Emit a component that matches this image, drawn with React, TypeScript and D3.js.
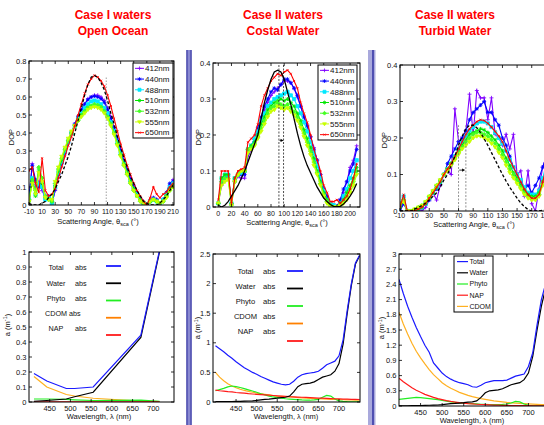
import React from 'react';
import * as d3 from 'd3';

// ---------------- categories / labels ----------------
const WAVE_NAMES = ['412nm', '440nm', '488nm', '510nm', '532nm', '555nm', '650nm'];
const WAVE_COLORS = ['#8000ff', '#0000ff', '#00e8ff', '#00e600', '#44ff22', '#c8ff00', '#ff0000'];
const WAVE_MARKERS = ['plus', 'star', 'square', 'star', 'diamond', 'tri', 'x'];

const ABS_NAMES_A = ['Total', 'Water', 'Phyto', 'CDOM', 'NAP'];
const ABS_NAMES_B = ['Total', 'Water', 'Phyto', 'NAP', 'CDOM'];
const ABS_COLORS: Record<string, string> = { Total: '#1a1aff', Water: '#000000', Phyto: '#22ee22', CDOM: '#ffb020', NAP: '#ff1a1a' };
const ABS_LEGEND_COLORS: Record<string, string> = { Total: '#1a1aff', Water: '#000000', Phyto: '#22ee22', CDOM: '#ff8000', NAP: '#ff1a1a' };

// ---------------- tick labels ----------------
const X_TICKS_OCEAN = [-10, 10, 30, 50, 70, 90, 110, 130, 150, 170, 190, 210];
const X_TICKS_COASTAL = [0, 20, 40, 60, 80, 100, 120, 140, 160, 180, 200];
const X_TICKS_TURBID = [-10, 10, 30, 50, 70, 90, 110, 130, 150, 170, 190, 210];
const Y_TICKS_OCEAN = [0, 0.1, 0.2, 0.3, 0.4, 0.5, 0.6, 0.7, 0.8];
const Y_TICKS_04 = [0, 0.1, 0.2, 0.3, 0.4];
const WL_TICKS = [450, 500, 550, 600, 650, 700];
const A_TICKS_1 = [0, 0.1, 0.2, 0.3, 0.4, 0.5, 0.6, 0.7, 0.8, 0.9, 1];
const A_TICKS_2 = [0, 0.5, 1, 1.5, 2, 2.5];
const A_TICKS_3 = [0, 0.3, 0.6, 0.9, 1.2, 1.5, 1.8, 2.1, 2.4, 2.7, 3];

// ---------------- DOP: Case I open ocean ----------------
const ANGLES_OCEAN = [-10, -5, 0, 5, 10, 15, 20, 25, 30, 35, 40, 45, 50, 55, 60, 65, 70, 75, 80, 85, 90, 95, 100, 105, 110, 115, 120, 125, 130, 135, 140, 145, 150, 155, 160, 165, 170, 175, 180, 185, 190, 195, 200, 205, 210];
const OCEAN_THEORY = [0.01, 0.0, 0.0, 0.0, 0.01, 0.02, 0.04, 0.06, 0.09, 0.13, 0.17, 0.22, 0.27, 0.33, 0.40, 0.47, 0.54, 0.61, 0.67, 0.71, 0.72, 0.71, 0.68, 0.64, 0.58, 0.51, 0.45, 0.38, 0.32, 0.26, 0.21, 0.16, 0.12, 0.08, 0.05, 0.02, 0.01, 0.0, 0.0, 0.0, 0.01, 0.03, 0.05, 0.08, 0.11];
const OCEAN_412 = [0.02, 0.23, 0.10, 0.13, 0.08, 0.04, 0.04, 0.01, 0.08, 0.17, 0.23, 0.29, 0.35, 0.40, 0.45, 0.49, 0.53, 0.56, 0.59, 0.60, 0.61, 0.61, 0.60, 0.58, 0.54, 0.49, 0.43, 0.37, 0.31, 0.25, 0.20, 0.15, 0.11, 0.07, 0.04, 0.02, 0.0, 0.03, 0.04, 0.03, 0.01, 0.03, 0.06, 0.11, 0.14];
const OCEAN_440 = [0.05, 0.22, 0.14, 0.10, 0.12, 0.05, 0.05, 0.0, 0.09, 0.17, 0.23, 0.29, 0.35, 0.40, 0.45, 0.49, 0.53, 0.56, 0.585, 0.60, 0.605, 0.60, 0.59, 0.57, 0.53, 0.48, 0.42, 0.36, 0.30, 0.24, 0.19, 0.14, 0.10, 0.06, 0.03, 0.01, 0.0, 0.02, 0.04, 0.03, 0.01, 0.03, 0.07, 0.12, 0.13];
const OCEAN_488 = [0.03, 0.15, 0.06, 0.12, 0.10, 0.03, 0.04, 0.01, 0.10, 0.18, 0.24, 0.30, 0.35, 0.40, 0.44, 0.48, 0.51, 0.54, 0.56, 0.575, 0.58, 0.575, 0.56, 0.54, 0.51, 0.46, 0.41, 0.35, 0.29, 0.23, 0.18, 0.13, 0.09, 0.06, 0.03, 0.01, 0.0, 0.02, 0.03, 0.02, 0.01, 0.03, 0.06, 0.10, 0.12];
const OCEAN_510 = [0.02, 0.13, 0.05, 0.20, 0.12, 0.04, 0.03, 0.02, 0.11, 0.19, 0.25, 0.31, 0.36, 0.40, 0.44, 0.47, 0.50, 0.52, 0.54, 0.55, 0.555, 0.55, 0.54, 0.52, 0.49, 0.45, 0.40, 0.34, 0.28, 0.23, 0.18, 0.13, 0.09, 0.05, 0.03, 0.01, 0.0, 0.02, 0.03, 0.02, 0.01, 0.02, 0.05, 0.09, 0.11];
const OCEAN_532 = [0.03, 0.14, 0.08, 0.21, 0.15, 0.05, 0.03, 0.02, 0.12, 0.20, 0.26, 0.31, 0.36, 0.40, 0.44, 0.47, 0.50, 0.52, 0.54, 0.55, 0.56, 0.555, 0.545, 0.52, 0.49, 0.45, 0.40, 0.34, 0.28, 0.22, 0.17, 0.12, 0.08, 0.05, 0.02, 0.01, 0.0, 0.02, 0.03, 0.02, 0.01, 0.02, 0.05, 0.08, 0.10];
const OCEAN_555 = [0.02, 0.12, 0.06, 0.18, 0.13, 0.04, 0.03, 0.03, 0.13, 0.21, 0.27, 0.32, 0.37, 0.41, 0.44, 0.47, 0.49, 0.51, 0.53, 0.54, 0.545, 0.54, 0.53, 0.51, 0.48, 0.44, 0.39, 0.33, 0.27, 0.22, 0.17, 0.12, 0.08, 0.05, 0.02, 0.01, 0.0, 0.02, 0.03, 0.02, 0.01, 0.02, 0.04, 0.08, 0.10];
const OCEAN_650 = [0.19, 0.21, 0.12, 0.07, 0.26, 0.08, 0.05, 0.06, 0.09, 0.15, 0.21, 0.27, 0.33, 0.38, 0.44, 0.50, 0.56, 0.62, 0.67, 0.70, 0.72, 0.71, 0.69, 0.66, 0.61, 0.55, 0.48, 0.41, 0.34, 0.28, 0.22, 0.17, 0.12, 0.08, 0.05, 0.02, 0.0, 0.04, 0.10, 0.06, 0.04, 0.06, 0.07, 0.10, 0.12];

// ---------------- DOP: Case II coastal ----------------
const ANGLES_COASTAL = [0, 5, 10, 15, 20, 25, 30, 35, 40, 45, 50, 55, 60, 65, 70, 75, 80, 85, 90, 95, 100, 105, 110, 115, 120, 125, 130, 135, 140, 145, 150, 155, 160, 165, 170, 175, 180, 185, 190, 195, 200, 205, 210];
const COASTAL_THEORY = [0.005, 0.0, 0.005, 0.015, 0.03, 0.045, 0.06, 0.08, 0.10, 0.125, 0.15, 0.175, 0.2, 0.245, 0.29, 0.325, 0.355, 0.375, 0.38, 0.375, 0.355, 0.32, 0.285, 0.245, 0.205, 0.17, 0.14, 0.115, 0.095, 0.075, 0.055, 0.04, 0.025, 0.015, 0.007, 0.002, 0.0, 0.002, 0.008, 0.018, 0.03, 0.045, 0.065];
const COASTAL_412 = [0.01, 0.06, 0.08, 0.085, 0.01, 0.07, 0.085, 0.08, 0.08, 0.14, 0.16, 0.18, 0.21, 0.24, 0.27, 0.29, 0.31, 0.32, 0.33, 0.34, 0.35, 0.35, 0.345, 0.33, 0.305, 0.28, 0.25, 0.225, 0.195, 0.165, 0.13, 0.09, 0.05, 0.025, 0.01, 0.0, 0.0, 0.02, 0.04, 0.07, 0.11, 0.13, 0.17];
const COASTAL_440 = [0.01, 0.07, 0.085, 0.09, 0.01, 0.075, 0.09, 0.09, 0.09, 0.15, 0.17, 0.19, 0.22, 0.25, 0.28, 0.30, 0.32, 0.33, 0.325, 0.34, 0.355, 0.355, 0.345, 0.33, 0.31, 0.28, 0.25, 0.225, 0.195, 0.16, 0.13, 0.09, 0.05, 0.03, 0.01, 0.005, 0.0, 0.02, 0.05, 0.07, 0.10, 0.12, 0.16];
const COASTAL_488 = [0.01, 0.08, 0.09, 0.09, 0.01, 0.08, 0.09, 0.095, 0.10, 0.16, 0.17, 0.19, 0.21, 0.24, 0.26, 0.28, 0.29, 0.30, 0.305, 0.31, 0.315, 0.32, 0.31, 0.30, 0.28, 0.26, 0.235, 0.21, 0.18, 0.15, 0.115, 0.08, 0.045, 0.02, 0.01, 0.005, 0.0, 0.01, 0.03, 0.05, 0.08, 0.10, 0.13];
const COASTAL_510 = [0.01, 0.08, 0.09, 0.09, 0.01, 0.08, 0.09, 0.10, 0.10, 0.16, 0.17, 0.18, 0.20, 0.23, 0.25, 0.27, 0.28, 0.29, 0.295, 0.30, 0.295, 0.30, 0.29, 0.28, 0.26, 0.24, 0.215, 0.19, 0.165, 0.135, 0.10, 0.07, 0.04, 0.02, 0.005, 0.0, 0.0, 0.01, 0.02, 0.04, 0.06, 0.08, 0.11];
const COASTAL_532 = [0.01, 0.07, 0.08, 0.08, 0.005, 0.07, 0.09, 0.10, 0.10, 0.16, 0.165, 0.175, 0.195, 0.22, 0.24, 0.26, 0.275, 0.28, 0.29, 0.285, 0.28, 0.285, 0.275, 0.265, 0.25, 0.23, 0.205, 0.18, 0.155, 0.125, 0.095, 0.065, 0.035, 0.015, 0.005, 0.0, 0.0, 0.005, 0.015, 0.03, 0.05, 0.07, 0.10];
const COASTAL_555 = [0.01, 0.06, 0.07, 0.075, 0.005, 0.07, 0.09, 0.10, 0.10, 0.15, 0.16, 0.17, 0.19, 0.21, 0.23, 0.25, 0.265, 0.27, 0.28, 0.275, 0.27, 0.275, 0.265, 0.255, 0.24, 0.22, 0.195, 0.17, 0.145, 0.115, 0.09, 0.06, 0.03, 0.01, 0.0, 0.0, 0.0, 0.005, 0.01, 0.02, 0.04, 0.06, 0.09];
const COASTAL_650 = [0.02, 0.10, 0.10, 0.10, 0.01, 0.08, 0.10, 0.105, 0.11, 0.18, 0.19, 0.20, 0.23, 0.28, 0.31, 0.33, 0.35, 0.36, 0.37, 0.365, 0.375, 0.38, 0.37, 0.35, 0.33, 0.29, 0.26, 0.235, 0.20, 0.16, 0.13, 0.10, 0.06, 0.04, 0.015, 0.015, 0.02, 0.01, 0.02, 0.03, 0.05, 0.08, 0.12];

// ---------------- DOP: Case II turbid ----------------
const ANGLES_TURBID = [-10, -5, 0, 5, 10, 15, 20, 25, 30, 35, 40, 45, 50, 55, 60, 65, 70, 75, 80, 85, 90, 95, 100, 105, 110, 115, 120, 125, 130, 135, 140, 145, 150, 155, 160, 165, 170, 175, 180, 185, 190, 195, 200, 205, 210];
const TURBID_THEORY = [0.0, 0.0, 0.0, 0.0, 0.005, 0.01, 0.015, 0.022, 0.03, 0.04, 0.05, 0.065, 0.085, 0.10, 0.125, 0.15, 0.18, 0.205, 0.225, 0.235, 0.235, 0.228, 0.215, 0.198, 0.18, 0.16, 0.14, 0.12, 0.10, 0.082, 0.065, 0.05, 0.035, 0.022, 0.012, 0.004, 0.0, 0.0, 0.0, 0.002, 0.005, 0.01, 0.02, 0.03, 0.04];
const TURBID_412 = [0.0, 0.03, 0.0, 0.0, 0.0, 0.005, 0.0, 0.01, 0.03, 0.05, 0.03, 0.07, 0.10, 0.11, 0.10, 0.28, 0.19, 0.20, 0.22, 0.32, 0.21, 0.33, 0.31, 0.31, 0.25, 0.31, 0.21, 0.20, 0.18, 0.21, 0.17, 0.21, 0.10, 0.11, 0.04, 0.11, 0.02, 0.0, 0.06, 0.12, 0.15, 0.17, 0.19, 0.20, 0.21];
const TURBID_440 = [0.0, 0.02, 0.0, 0.0, 0.0, 0.005, 0.01, 0.02, 0.03, 0.05, 0.06, 0.08, 0.10, 0.13, 0.15, 0.17, 0.19, 0.20, 0.22, 0.25, 0.27, 0.28, 0.29, 0.30, 0.27, 0.27, 0.25, 0.235, 0.20, 0.18, 0.15, 0.12, 0.10, 0.08, 0.06, 0.07, 0.05, 0.07, 0.09, 0.12, 0.15, 0.17, 0.19, 0.20, 0.21];
const TURBID_488 = [0.02, 0.04, 0.0, 0.0, 0.0, 0.005, 0.01, 0.02, 0.035, 0.05, 0.065, 0.08, 0.10, 0.115, 0.13, 0.15, 0.17, 0.19, 0.205, 0.22, 0.23, 0.24, 0.245, 0.245, 0.24, 0.23, 0.215, 0.20, 0.185, 0.165, 0.14, 0.12, 0.10, 0.085, 0.065, 0.05, 0.045, 0.045, 0.055, 0.09, 0.13, 0.16, 0.18, 0.19, 0.20];
const TURBID_510 = [0.01, 0.03, 0.0, 0.0, 0.0, 0.005, 0.01, 0.02, 0.035, 0.05, 0.065, 0.08, 0.10, 0.115, 0.13, 0.145, 0.165, 0.18, 0.195, 0.21, 0.215, 0.22, 0.225, 0.222, 0.215, 0.205, 0.195, 0.18, 0.165, 0.145, 0.125, 0.105, 0.09, 0.07, 0.055, 0.045, 0.04, 0.04, 0.05, 0.08, 0.11, 0.14, 0.16, 0.17, 0.18];
const TURBID_532 = [0.02, 0.03, 0.0, 0.0, 0.005, 0.01, 0.015, 0.025, 0.04, 0.055, 0.07, 0.085, 0.10, 0.115, 0.13, 0.145, 0.16, 0.175, 0.19, 0.20, 0.21, 0.215, 0.215, 0.21, 0.205, 0.195, 0.185, 0.17, 0.155, 0.135, 0.115, 0.10, 0.085, 0.065, 0.05, 0.04, 0.035, 0.035, 0.045, 0.075, 0.10, 0.13, 0.15, 0.16, 0.17];
const TURBID_555 = [0.02, 0.025, 0.0, 0.0, 0.005, 0.01, 0.015, 0.025, 0.04, 0.055, 0.07, 0.085, 0.10, 0.11, 0.125, 0.14, 0.155, 0.17, 0.18, 0.19, 0.20, 0.205, 0.205, 0.20, 0.195, 0.185, 0.175, 0.16, 0.145, 0.125, 0.105, 0.09, 0.075, 0.06, 0.045, 0.035, 0.03, 0.03, 0.04, 0.07, 0.095, 0.12, 0.14, 0.15, 0.16];
const TURBID_650 = [0.01, 0.045, 0.0, 0.0, 0.0, 0.005, 0.01, 0.02, 0.035, 0.05, 0.065, 0.08, 0.10, 0.115, 0.13, 0.15, 0.17, 0.19, 0.21, 0.225, 0.235, 0.245, 0.25, 0.248, 0.24, 0.23, 0.218, 0.205, 0.19, 0.165, 0.14, 0.12, 0.10, 0.08, 0.06, 0.045, 0.035, 0.035, 0.045, 0.08, 0.12, 0.15, 0.17, 0.18, 0.19];

// ---------------- absorption: Case I (multispectral) ----------------
const WL_OCEAN = [412, 443, 490, 510, 555, 670, 715];
const OCEAN_TOTAL = [0.19, 0.14, 0.09, 0.09, 0.10, 0.445, 1.01];
const OCEAN_WATER = [0.005, 0.01, 0.02, 0.035, 0.065, 0.43, 1.0];
const OCEAN_PHYTO = [0.02, 0.02, 0.017, 0.014, 0.01, 0.012, 0.004];
const OCEAN_CDOM = [0.17, 0.10, 0.05, 0.04, 0.025, 0.006, 0.003];
const OCEAN_NAP = [0.001, 0.001, 0.001, 0.001, 0.001, 0.001, 0.001];

// ---------------- absorption: hyperspectral ----------------
const WL_HYPER = [400, 410, 420, 430, 440, 450, 460, 470, 480, 490, 500, 510, 520, 530, 540, 550, 560, 570, 580, 590, 600, 610, 620, 630, 640, 650, 660, 670, 680, 690, 700, 710, 720, 730, 740, 750];
const WATER_HYPER = [0.005, 0.005, 0.005, 0.006, 0.007, 0.009, 0.012, 0.015, 0.017, 0.02, 0.026, 0.036, 0.045, 0.05, 0.058, 0.065, 0.075, 0.08, 0.10, 0.17, 0.26, 0.30, 0.31, 0.32, 0.34, 0.38, 0.42, 0.44, 0.46, 0.52, 0.65, 0.98, 1.50, 1.97, 2.33, 2.47];
const COASTAL_TOTAL = [0.95, 0.90, 0.85, 0.79, 0.74, 0.68, 0.63, 0.58, 0.54, 0.50, 0.47, 0.43, 0.40, 0.37, 0.34, 0.32, 0.30, 0.29, 0.30, 0.35, 0.42, 0.46, 0.48, 0.49, 0.50, 0.52, 0.57, 0.63, 0.66, 0.69, 0.78, 1.05, 1.55, 2.0, 2.35, 2.48];
const COASTAL_PHYTO = [0.19, 0.21, 0.23, 0.255, 0.27, 0.26, 0.245, 0.225, 0.205, 0.185, 0.165, 0.14, 0.12, 0.10, 0.085, 0.075, 0.065, 0.055, 0.05, 0.045, 0.04, 0.035, 0.032, 0.03, 0.035, 0.045, 0.08, 0.11, 0.10, 0.05, 0.02, 0.01, 0.005, 0.003, 0.002, 0.001];
const COASTAL_CDOM = [0.50, 0.42, 0.36, 0.31, 0.27, 0.24, 0.215, 0.195, 0.18, 0.165, 0.15, 0.14, 0.13, 0.12, 0.11, 0.10, 0.095, 0.09, 0.085, 0.08, 0.075, 0.07, 0.066, 0.062, 0.058, 0.055, 0.052, 0.049, 0.046, 0.043, 0.04, 0.038, 0.036, 0.034, 0.032, 0.03];
const COASTAL_NAP = [0.20, 0.19, 0.185, 0.175, 0.17, 0.16, 0.155, 0.15, 0.14, 0.135, 0.13, 0.125, 0.12, 0.115, 0.11, 0.105, 0.10, 0.095, 0.09, 0.087, 0.083, 0.08, 0.077, 0.073, 0.07, 0.067, 0.064, 0.061, 0.058, 0.055, 0.052, 0.05, 0.048, 0.046, 0.044, 0.042];
const TURBID_TOTAL = [2.5, 2.22, 1.97, 1.75, 1.55, 1.37, 1.2, 1.06, 0.85, 0.75, 0.65, 0.58, 0.53, 0.49, 0.46, 0.44, 0.42, 0.38, 0.37, 0.41, 0.46, 0.48, 0.50, 0.50, 0.50, 0.51, 0.55, 0.59, 0.61, 0.63, 0.78, 1.05, 1.6, 2.1, 2.42, 2.55];
const TURBID_PHYTO = [0.13, 0.14, 0.15, 0.16, 0.17, 0.165, 0.155, 0.145, 0.135, 0.125, 0.11, 0.095, 0.08, 0.07, 0.06, 0.055, 0.05, 0.045, 0.04, 0.035, 0.032, 0.03, 0.03, 0.03, 0.032, 0.04, 0.06, 0.09, 0.08, 0.04, 0.015, 0.008, 0.004, 0.002, 0.001, 0.001];
const TURBID_CDOM = [1.85, 1.62, 1.42, 1.24, 1.08, 0.95, 0.83, 0.72, 0.62, 0.54, 0.46, 0.40, 0.35, 0.31, 0.27, 0.24, 0.21, 0.185, 0.165, 0.145, 0.13, 0.115, 0.10, 0.09, 0.08, 0.07, 0.063, 0.056, 0.05, 0.045, 0.04, 0.036, 0.032, 0.029, 0.026, 0.024];
const TURBID_NAP = [0.55, 0.48, 0.42, 0.36, 0.31, 0.27, 0.23, 0.20, 0.17, 0.145, 0.125, 0.105, 0.09, 0.078, 0.066, 0.057, 0.048, 0.041, 0.035, 0.03, 0.026, 0.022, 0.019, 0.016, 0.014, 0.012, 0.01, 0.009, 0.008, 0.007, 0.006, 0.005, 0.004, 0.004, 0.003, 0.003];

const FONT = 'Liberation Sans, Arial, Helvetica, sans-serif';

type Box = { x: number; y: number; w: number; h: number };

function markerPath(type: string, cx: number, cy: number, s: number): string {
  const plus = `M${cx - s},${cy}H${cx + s}M${cx},${cy - s}V${cy + s}`;
  const k = s * 0.72;
  const cross = `M${cx - k},${cy - k}L${cx + k},${cy + k}M${cx - k},${cy + k}L${cx + k},${cy - k}`;
  switch (type) {
    case 'plus': return plus;
    case 'x': return cross;
    case 'star': return plus + cross;
    case 'square': return `M${cx - s * 0.8},${cy - s * 0.8}h${1.6 * s}v${1.6 * s}h${-1.6 * s}Z`;
    case 'diamond': return `M${cx},${cy - s}L${cx + s},${cy}L${cx},${cy + s}L${cx - s},${cy}Z`;
    case 'tri': return `M${cx - s},${cy - s * 0.6}L${cx + s},${cy - s * 0.6}L${cx},${cy + s}Z`;
    default: return plus;
  }
}
const FILLED = new Set(['square', 'diamond', 'tri']);

function Frame({ box, x, y, xTicks, yTicks, yFmt, tickLabelY, fs, xfs }: any) {
  const b = box.y + box.h;
  return (
    <g>
      <rect x={box.x} y={box.y} width={box.w} height={box.h} fill="none" stroke="#000" strokeWidth={1} />
      {xTicks.map((t: number) => (
        <g key={'x' + t}>
          <line x1={x(t)} x2={x(t)} y1={b} y2={b - 3} stroke="#000" strokeWidth={0.8} />
          <line x1={x(t)} x2={x(t)} y1={box.y} y2={box.y + 3} stroke="#000" strokeWidth={0.8} />
          <text x={x(t)} y={tickLabelY} fontSize={xfs || fs} textAnchor="middle" fill="#111">{t}</text>
        </g>
      ))}
      {yTicks.map((t: number) => (
        <g key={'y' + t}>
          <line x1={box.x} x2={box.x + 3} y1={y(t)} y2={y(t)} stroke="#000" strokeWidth={0.8} />
          <line x1={box.x + box.w} x2={box.x + box.w - 3} y1={y(t)} y2={y(t)} stroke="#000" strokeWidth={0.8} />
          <text x={box.x - 2.5} y={y(t)} dy="0.35em" fontSize={fs} textAnchor="end" fill="#111">{yFmt(t)}</text>
        </g>
      ))}
    </g>
  );
}

function TopPanel(p: any) {
  const { id, box, xDomain, yDomain, xTicks, yTicks, angles, series, theory, theorySolid, vlines, arrow, legend, tickLabelY, xLabel, yLabel, xfs } = p;
  const x = d3.scaleLinear().domain(xDomain).range([box.x, box.x + box.w]);
  const y = d3.scaleLinear().domain(yDomain).range([box.y + box.h, box.y]);
  const mk = (vals: number[]) =>
    d3.line<number>().x((_, i) => x(angles[i])).y((v) => y(v))(vals.slice(0, angles.length)) || '';
  const fmt = (t: number) => String(+t.toFixed(2));
  return (
    <g>
      <defs>
        <clipPath id={id}><rect x={box.x} y={box.y} width={box.w} height={box.h} /></clipPath>
      </defs>
      <rect x={box.x} y={box.y} width={box.w} height={box.h} fill="#fff" />
      <g clipPath={`url(#${id})`}>
        {series.map((vals: number[], si: number) => (
          <g key={si}>
            <path d={mk(vals)} fill="none" stroke={WAVE_COLORS[si]} strokeWidth={1.1} />
            {vals.slice(0, angles.length).map((v, i) => (
              <path key={i} d={markerPath(WAVE_MARKERS[si], x(angles[i]), y(v), si === 6 ? 1.4 : 2)}
                stroke={WAVE_COLORS[si]} strokeWidth={0.85}
                fill={FILLED.has(WAVE_MARKERS[si]) ? WAVE_COLORS[si] : 'none'} />
            ))}
          </g>
        ))}
        {vlines.map((v: any, i: number) => (
          <line key={i} x1={x(v.x)} x2={x(v.x)} y1={y(v.y0)} y2={y(v.y1)} stroke={v.color} strokeWidth={0.8} strokeDasharray={v.dash} />
        ))}
        <path d={mk(theory)} fill="none" stroke="#000" strokeWidth={1.3} strokeDasharray={theorySolid ? undefined : '3,2'} />
        {arrow && (
          <g>
            <line x1={x(arrow.x0)} x2={x(arrow.x1) - 2} y1={y(arrow.y)} y2={y(arrow.y)} stroke="#000" strokeWidth={0.8} />
            <path d={`M${x(arrow.x1)},${y(arrow.y)}l-3,-1.6v3.2Z`} fill="#000" />
          </g>
        )}
      </g>
      <Frame box={box} x={x} y={y} xTicks={xTicks} yTicks={yTicks} yFmt={fmt} tickLabelY={tickLabelY} fs={7.5} xfs={xfs} />
      {legend && (
        <g>
          <rect x={legend.x} y={legend.y} width={legend.w} height={legend.h} fill="#fff" stroke="#000" strokeWidth={1} />
          {WAVE_NAMES.map((n, i) => {
            const ry = legend.y + legend.h * (i + 0.5) / 7;
            return (
              <g key={n}>
                <line x1={legend.x + 2} x2={legend.x + 11} y1={ry} y2={ry} stroke={WAVE_COLORS[i]} strokeWidth={1} />
                <path d={markerPath(WAVE_MARKERS[i], legend.x + 6.5, ry, i === 6 ? 1.4 : 1.9)} stroke={WAVE_COLORS[i]} strokeWidth={0.8}
                  fill={FILLED.has(WAVE_MARKERS[i]) ? WAVE_COLORS[i] : 'none'} />
                <text x={legend.x + 12} y={ry} dy="0.35em" fontSize={8} fill="#111">{n}</text>
              </g>
            );
          })}
        </g>
      )}
      <text x={xLabel.x} y={xLabel.y} fontSize={7.5} textAnchor="middle" fill="#111">
        Scattering Angle, θ<tspan dy={2} fontSize={5.5}>sca</tspan><tspan dy={-2}> (°)</tspan>
      </text>
      <text transform={`translate(${yLabel.x},${yLabel.y}) rotate(-90)`} fontSize={7.5} textAnchor="middle" fill="#111">DOP</text>
    </g>
  );
}

function BottomPanel(p: any) {
  const { id, box, xDomain, yDomain, yTicks, wl, series, names, legendStyle, tickLabelY, xLabel, yLabel } = p;
  const x = d3.scaleLinear().domain(xDomain).range([box.x, box.x + box.w]);
  const y = d3.scaleLinear().domain(yDomain).range([box.y + box.h, box.y]);
  const mk = (vals: number[]) =>
    d3.line<number>().x((_, i) => x(wl[i])).y((v) => y(v))(vals.slice(0, wl.length)) || '';
  const fmt = (t: number) => String(+t.toFixed(2));
  const drawOrder = ['CDOM', 'Phyto', 'NAP', 'Water', 'Total'];
  return (
    <g>
      <defs>
        <clipPath id={id}><rect x={box.x} y={box.y} width={box.w} height={box.h} /></clipPath>
      </defs>
      <rect x={box.x} y={box.y} width={box.w} height={box.h} fill="#fff" />
      <g clipPath={`url(#${id})`}>
        {drawOrder.map((n) => (
          <path key={n} d={mk(series[n])} fill="none" stroke={ABS_COLORS[n]} strokeWidth={1.2} />
        ))}
      </g>
      <Frame box={box} x={x} y={y} xTicks={WL_TICKS} yTicks={yTicks} yFmt={fmt} tickLabelY={tickLabelY} fs={7.5} />
      {legendStyle.type === 'text' && names.map((n: string, i: number) => {
        const L = legendStyle;
        const ty = box.y + L.ty0 + i * L.tdy;
        const ly = box.y + L.ly0 + i * L.ldy;
        const absX = n === 'CDOM' && L.compactCdom ? box.x + L.cdomAbsX : box.x + L.absX;
        return (
          <g key={n}>
            <text x={box.x + L.wordX} y={ty} dy="0.35em" fontSize={L.fs} textAnchor="middle" fill="#111">{n}</text>
            <text x={absX} y={ty} dy="0.35em" fontSize={L.fs} fill="#111">abs</text>
            <line x1={box.x + L.lx0} x2={box.x + L.lx1} y1={ly} y2={ly} stroke={ABS_LEGEND_COLORS[n]} strokeWidth={1.8} />
          </g>
        );
      })}
      {legendStyle.type === 'box' && (
        <g>
          <rect x={legendStyle.x} y={legendStyle.y} width={legendStyle.w} height={legendStyle.h} fill="#fff" stroke="#000" strokeWidth={1} />
          {names.map((n: string, i: number) => {
            const ry = legendStyle.y + legendStyle.h * (i + 0.5) / names.length;
            return (
              <g key={n}>
                <line x1={legendStyle.x + 3} x2={legendStyle.x + 14} y1={ry} y2={ry} stroke={ABS_COLORS[n]} strokeWidth={1.2} />
                <text x={legendStyle.x + 15.5} y={ry} dy="0.35em" fontSize={7} fill="#111">{n}</text>
              </g>
            );
          })}
        </g>
      )}
      <text x={xLabel.x} y={xLabel.y} fontSize={7.5} textAnchor="middle" fill="#111">Wavelength, λ (nm)</text>
      <text transform={`translate(${yLabel.x},${yLabel.y}) rotate(-90)`} fontSize={7.5} textAnchor="middle" fill="#111">
        a (m<tspan dy={-2.5} fontSize={5.5}>-1</tspan><tspan dy={2.5}>)</tspan>
      </text>
    </g>
  );
}

function Title({ x, lines }: { x: number; lines: string[] }) {
  return (
    <g>
      {lines.map((l, i) => (
        <text key={i} x={x} y={18.5 + i * 16} fontSize={12} fontWeight="bold" fill="#ff0000" textAnchor="middle">{l}</text>
      ))}
    </g>
  );
}

export default function App() {
  const oceanSeries = [OCEAN_412, OCEAN_440, OCEAN_488, OCEAN_510, OCEAN_532, OCEAN_555, OCEAN_650];
  const coastalSeries = [COASTAL_412, COASTAL_440, COASTAL_488, COASTAL_510, COASTAL_532, COASTAL_555, COASTAL_650];
  const turbidSeries = [TURBID_412, TURBID_440, TURBID_488, TURBID_510, TURBID_532, TURBID_555, TURBID_650];

  const T1: Box = { x: 29, y: 61, w: 145, h: 144 };
  const T2: Box = { x: 213, y: 63, w: 147, h: 144 };
  const T3: Box = { x: 400, y: 65, w: 161, h: 146 };
  const B1: Box = { x: 29, y: 252, w: 145, h: 150 };
  const B2: Box = { x: 213, y: 254, w: 147, h: 148 };
  const B3: Box = { x: 399, y: 254, w: 151, h: 152 };

  return (
    <svg width={544} height={425} style={{ position: 'absolute', left: 0, top: 0, background: '#fff' }} fontFamily={FONT}>
      <rect x={0} y={0} width={544} height={425} fill="#fff" />
      <Title x={113} lines={['Case I waters', 'Open Ocean']} />
      <Title x={283} lines={['Case II waters', 'Costal Water']} />
      <Title x={455} lines={['Case II waters', 'Turbid Water']} />

      {/* separators */}
      <rect x={186.5} y={50} width={5} height={375} fill="#b4b4e2" />
      <line x1={187} x2={187} y1={50} y2={425} stroke="#23239c" strokeWidth={1.2} />
      <line x1={189} x2={189} y1={50} y2={425} stroke="#4a4ab8" strokeWidth={0.8} />
      <line x1={191} x2={191} y1={50} y2={425} stroke="#23239c" strokeWidth={1.2} />
      <rect x={368} y={50} width={7.5} height={375} fill="#a9a9dc" />
      <line x1={373} x2={373} y1={50} y2={425} stroke="#2a2a9e" strokeWidth={1.4} />

      <TopPanel id="t1" box={T1} xDomain={[-10, 211.5]} yDomain={[0, 0.8]} xTicks={X_TICKS_OCEAN} yTicks={Y_TICKS_OCEAN}
        angles={ANGLES_OCEAN} series={oceanSeries} theory={OCEAN_THEORY} theorySolid={false}
        vlines={[{ x: 108, y0: 0, y1: 0.71, color: '#888', dash: '1.5,1.5' }]} xfs={7}
        legend={{ x: 133, y: 63, w: 40, h: 75 }} tickLabelY={214} xLabel={{ x: 98, y: 223.5 }} yLabel={{ x: 14, y: 137 }} />
      <TopPanel id="t2" box={T2} xDomain={[-8, 215]} yDomain={[0, 0.4]} xTicks={X_TICKS_COASTAL} yTicks={Y_TICKS_04}
        angles={ANGLES_COASTAL} series={coastalSeries} theory={COASTAL_THEORY} theorySolid={true}
        vlines={[{ x: 92, y0: 0, y1: 0.395, color: '#222', dash: '2,1.5' }, { x: 99, y0: 0, y1: 0.395, color: '#222', dash: '2,1.5' }]}
        arrow={{ x0: 93, x1: 99, y: 0.185 }} xfs={7}
        legend={{ x: 318, y: 65, w: 39, h: 75 }} tickLabelY={215.5} xLabel={{ x: 287, y: 225 }} yLabel={{ x: 201, y: 137 }} />
      <TopPanel id="t3" box={T3} xDomain={[-10, 210]} yDomain={[0, 0.4]} xTicks={X_TICKS_TURBID} yTicks={Y_TICKS_04}
        angles={ANGLES_TURBID} series={turbidSeries} theory={TURBID_THEORY} theorySolid={false}
        vlines={[{ x: 70, y0: 0, y1: 0.235, color: '#777', dash: '2,1.5' }, { x: 80, y0: 0, y1: 0.235, color: '#777', dash: '2,1.5' }]}
        arrow={{ x0: 71, x1: 79, y: 0.112 }} xfs={7}
        tickLabelY={218} xLabel={{ x: 474, y: 227 }} yLabel={{ x: 387, y: 140 }} />

      <BottomPanel id="b1" box={B1} xDomain={[400, 750]} yDomain={[0, 1]} yTicks={A_TICKS_1} wl={WL_OCEAN}
        series={{ Total: OCEAN_TOTAL, Water: OCEAN_WATER, Phyto: OCEAN_PHYTO, CDOM: OCEAN_CDOM, NAP: OCEAN_NAP }}
        names={ABS_NAMES_A}
        legendStyle={{ type: 'text', fs: 7.2, ty0: 15.7, tdy: 15.3, ly0: 14, ldy: 17.25, wordX: 27, absX: 46, compactCdom: true, cdomAbsX: 40, lx0: 77, lx1: 92 }}
        tickLabelY={410.5} xLabel={{ x: 99, y: 419 }} yLabel={{ x: 9.5, y: 325 }} />
      <BottomPanel id="b2" box={B2} xDomain={[394, 751]} yDomain={[0, 2.5]} yTicks={A_TICKS_2} wl={WL_HYPER}
        series={{ Total: COASTAL_TOTAL, Water: WATER_HYPER, Phyto: COASTAL_PHYTO, CDOM: COASTAL_CDOM, NAP: COASTAL_NAP }}
        names={ABS_NAMES_A}
        legendStyle={{ type: 'text', fs: 7.6, ty0: 17, tdy: 15, ly0: 17, ldy: 17.5, wordX: 32.5, absX: 50, compactCdom: false, cdomAbsX: 50, lx0: 74, lx1: 90 }}
        tickLabelY={410.5} xLabel={{ x: 286, y: 419 }} yLabel={{ x: 200, y: 328 }} />
      <BottomPanel id="b3" box={B3} xDomain={[400, 750]} yDomain={[0, 3]} yTicks={A_TICKS_3} wl={WL_HYPER}
        series={{ Total: TURBID_TOTAL, Water: WATER_HYPER, Phyto: TURBID_PHYTO, CDOM: TURBID_CDOM, NAP: TURBID_NAP }}
        names={ABS_NAMES_B}
        legendStyle={{ type: 'box', x: 454, y: 256, w: 39, h: 56 }}
        tickLabelY={415} xLabel={{ x: 472, y: 423 }} yLabel={{ x: 384, y: 328 }} />
    </svg>
  );
}
